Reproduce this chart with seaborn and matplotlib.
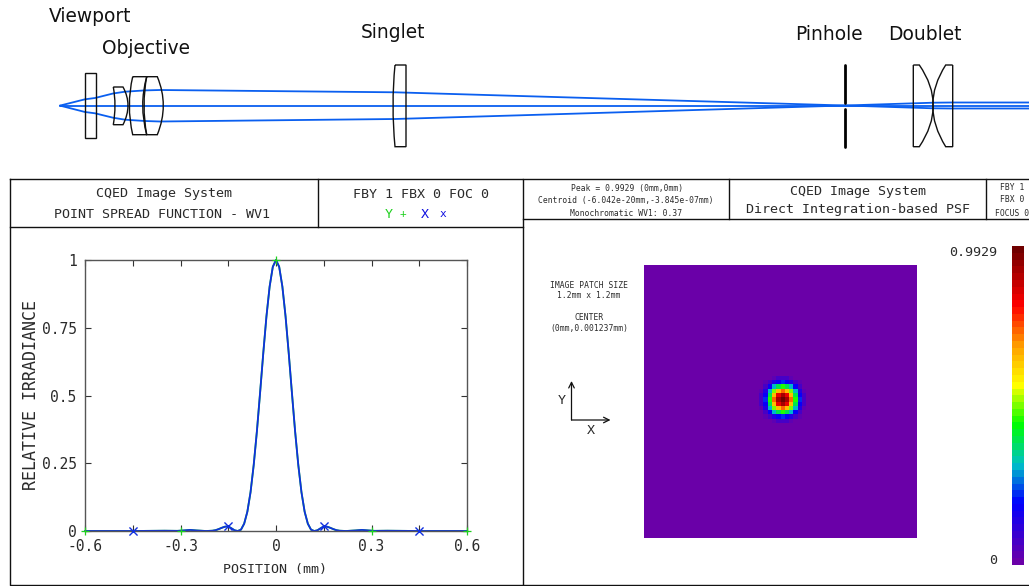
"""
Optical layout with PSF cross section and PSF map
"""

import matplotlib
matplotlib.use("Agg")
import matplotlib.pyplot as plt
from matplotlib.colors import LinearSegmentedColormap
from matplotlib.path import Path
from matplotlib.patches import PathPatch
import numpy as np
import pandas as pd
import seaborn as sns

sns.set_style("white")
plt.rcParams['font.family'] = ['DejaVu Sans Mono']

W, H = 1029, 586
BLUE_RAY = '#0a5ff0'
INK = '#2a2a2a'
SANS = ['DejaVu Sans']

# PSF cross section (one side, mirrored below)
POS = [0, .01, .02, .03, .04, .05, .06, .07, .08, .09, .10, .11, .12, .13, .14, .15,
       .16, .17, .18, .19, .20, .22, .25, .27, .29, .31, .35, .40, .45, .60]
IRR = [1, .975, .902, .792, .656, .510, .368, .244, .143, .071, .027, .005, 0, .0025,
       .010, .017, .016, .012, .007, .003, .001, 0, .002, .004, .002, .0005, .001,
       .0005, 0, 0]
Y_MARKS = [-.6, -.3, 0, .3, .6]
X_MARKS = [-.45, -.15, .15, .45]

X_TICKS = [-.6, -.45, -.3, -.15, 0, .15, .3, .45, .6]
X_LABELS = ['-0.6', '', '-0.3', '', '0', '', '0.3', '', '0.6']
Y_TICKS = [0, .25, .5, .75, 1]
Y_LABELS = ['0', '0.25', '0.5', '0.75', '1']

# PSF map: centre quadrant of the spot, the rest of the patch is 0
SPOT = [[.99, .91, .72, .45, .22, .08, .01],
        [.91, .84, .65, .40, .19, .07, .008],
        [.72, .65, .50, .30, .14, .04, .004],
        [.45, .40, .30, .18, .07, .015, 0],
        [.22, .19, .14, .07, .025, .004, 0],
        [.08, .07, .04, .015, .004, 0, 0],
        [.01, .008, .004, 0, 0, 0, 0]]
PEAK = 0.9929
N_CELLS = 64
N_LEVELS = 47
CMAP_STOPS = [(0, '#6a00a8'), (.19, '#0000ff'), (.31, '#00c0c8'), (.44, '#00ff00'),
              (.565, '#ffff00'), (.69, '#ffa000'), (.82, '#ff0000'), (1, '#700000')]

# ray paths in picture pixels
RAY_X = [60, 85, 95, 113, 125, 145, 160, 395, 520, 845, 933, 952, 1029]
RAY_UP = [105.6, 99.3, 98, 93.5, 91.7, 90.4, 90, 92.3, 96, 105.5, 108.3, 108.5, 108.5]
RAY_DOWN = [105.6, 112, 113.3, 117.7, 119.7, 121, 121.5, 119, 115.3, 105.5, 102.7, 102.5, 102.5]

LABELS = [('Viewport', 90.5, 16), ('Objective', 146, 49), ('Singlet', 393, 33),
          ('Pinhole', 829, 35), ('Doublet', 925, 35)]

# lens outlines: (x, y) start, then straight or curved segments; middle point is on the curve
LENSES = [
    [(113.3, 87), ('L', 123, 87), ('C', 128, 105.5, 123, 124.7), ('L', 113.3, 124.7), ('C', 115, 105.5, 113.3, 87)],
    [(132.7, 76.7), ('L', 146.7, 76.7), ('C', 142.7, 105.5, 146.7, 134.7), ('L', 132.7, 134.7), ('C', 129.3, 105.5, 132.7, 76.7)],
    [(146.7, 76.7), ('L', 157.3, 76.7), ('C', 163.3, 105.5, 157.3, 134.7), ('L', 146.7, 134.7), ('C', 144, 105.5, 146.7, 76.7)],
    [(395, 65), ('L', 406, 65), ('L', 406, 146.7), ('L', 395, 146.7), ('C', 393, 105.5, 395, 65)],
    [(913.3, 65), ('L', 919.3, 65), ('C', 933.3, 105.5, 919.3, 146.7), ('L', 913.3, 146.7), ('L', 913.3, 65)],
    [(952.7, 65), ('L', 945.7, 65), ('C', 932.7, 105.5, 945.7, 146.7), ('L', 952.7, 146.7), ('L', 952.7, 65)],
]


def px_axes(fig, x0, y0, x1, y1):
    """Axes placed by picture pixels"""
    return fig.add_axes([x0 / W, 1 - y1 / H, (x1 - x0) / W, (y1 - y0) / H])


def lens_path(outline):
    verts, codes = [outline[0]], [Path.MOVETO]
    for seg in outline[1:]:
        if seg[0] == 'L':
            verts.append(seg[1:])
            codes.append(Path.LINETO)
        else:
            a = np.array(verts[-1])
            mid = np.array(seg[1:3])
            b = np.array(seg[3:5])
            verts += [tuple(2 * mid - (a + b) / 2), tuple(b)]
            codes += [Path.CURVE3, Path.CURVE3]
    return Path(verts, codes)


def draw_layout(ax):
    for xs, ys in [(RAY_X, RAY_UP), (RAY_X, RAY_DOWN), ([60, 1029], [105.6, 105.6])]:
        ax.plot(xs, ys, color=BLUE_RAY, lw=1.3, zorder=2)
    ax.add_patch(plt.Rectangle((84.7, 73.3), 11, 64.4, fill=False, ec='#111111', lw=1.0, zorder=3))
    for outline in LENSES:
        ax.add_patch(PathPatch(lens_path(outline), fill=False, ec='#111111', lw=1.0, zorder=3))
    ax.plot([845, 845], [65, 102.5], color='black', lw=2, zorder=3)
    ax.plot([845, 845], [108.5, 147], color='black', lw=2, zorder=3)
    for text, x, y in LABELS:
        ax.text(x, y, text, family=SANS, fontsize=13.4, color='#111111', ha='center', va='center')


def draw_frames(ax):
    rules = [([10, 523, 523, 10, 10], [179, 179, 585, 585, 179]),
             ([10, 523], [227, 227]), ([318, 318], [179, 227]),
             ([523, 1029], [179, 179]), ([523, 1029], [219, 219]),
             ([729, 729], [179, 219]), ([986, 986], [179, 219]),
             ([523, 1029], [585, 585])]
    for xs, ys in rules:
        ax.plot(xs, ys, color='#111111', lw=1.0, solid_capstyle='projecting')


def draw_header_text(ax):
    main = dict(fontsize=9.6, color=INK, ha='center', va='center')
    small = dict(fontsize=5.8, color=INK, ha='center', va='center')
    ax.text(164, 194, 'CQED Image System', **main)
    ax.text(162, 214, 'POINT SPREAD FUNCTION - WV1', **main)
    ax.text(421, 194, 'FBY 1 FBX 0 FOC 0', **main)
    ax.text(389, 214, 'Y', **{**main, 'color': '#1fd01f'})
    ax.text(403, 214, '+', **{**small, 'color': '#1fd01f', 'fontsize': 8})
    ax.text(425, 214, 'X', **{**main, 'color': '#1010e0'})
    ax.text(443, 214, 'x', **{**small, 'color': '#1010e0', 'fontsize': 8})
    ax.text(627, 188, 'Peak = 0.9929 (0mm,0mm)', **small)
    ax.text(626, 200, 'Centroid (-6.042e-20mm,-3.845e-07mm)', **small)
    ax.text(626, 213, 'Monochromatic WV1: 0.37', **small)
    ax.text(858, 191, 'CQED Image System', **main)
    ax.text(858, 209, 'Direct Integration-based PSF', **main)
    ax.text(1012, 188, 'FBY 1', **small)
    ax.text(1012, 200, 'FBX 0', **small)
    ax.text(1012, 213, 'FOCUS 0', clip_on=True, **small)
    ax.text(589, 286, 'IMAGE PATCH SIZE', **small)
    ax.text(589, 296, '1.2mm x 1.2mm', **small)
    ax.text(589, 318, 'CENTER', **small)
    ax.text(589, 328, '(0mm,0.001237mm)', **small)
    ax.text(31, 395, 'RELATIVE IRRADIANCE', rotation=90, **{**main, 'fontsize': 12})
    ax.text(275, 569, 'POSITION (mm)', **main)
    ax.text(561.5, 400, 'Y', **main)
    ax.text(590.5, 431, 'X', **main)
    ax.text(973, 252, '0.9929', **main)
    ax.text(993, 560, '0', **main)
    for end in [(571.5, 381), (610.5, 420)]:
        ax.annotate('', xy=end, xytext=(571.5, 420),
                    arrowprops=dict(arrowstyle='->', color='#111111', lw=0.9, shrinkA=0, shrinkB=0))


def draw_profile(ax):
    x = np.array(POS)
    y = np.array(IRR)
    curve = pd.DataFrame({'position': np.r_[-x[:0:-1], x], 'irradiance': np.r_[y[:0:-1], y]})
    sns.lineplot(data=curve, x='position', y='irradiance', color='#1fd01f', lw=1.3, ax=ax, clip_on=False)
    sns.lineplot(data=curve, x='position', y='irradiance', color='#1030e0', lw=1.3, ax=ax, clip_on=False)
    sns.scatterplot(x=Y_MARKS, y=np.interp(np.abs(Y_MARKS), x, y), marker='+', s=28, color='#1fd01f',
                    linewidth=0.9, ax=ax, clip_on=False, zorder=5)
    sns.scatterplot(x=X_MARKS, y=np.interp(np.abs(X_MARKS), x, y), marker='x', s=34, color='#1030e0',
                    linewidth=1.0, ax=ax, clip_on=False, zorder=5)
    ax.set_xlim(-.6, .6)
    ax.set_ylim(0, 1)
    ax.set_xticks(X_TICKS)
    ax.set_xticklabels(X_LABELS)
    ax.set_yticks(Y_TICKS)
    ax.set_yticklabels(Y_LABELS)
    ax.set_xlabel('')
    ax.set_ylabel('')
    ax.tick_params(direction='in', bottom=True, left=True, top=True, right=True, length=4, width=0.8,
                   color='#333333', labelsize=10.5, labelcolor=INK, pad=6)
    for spine in ax.spines.values():
        spine.set_color('#555555')
        spine.set_linewidth(1.0)
    ax.patch.set_alpha(0)


def draw_maps(ax_map, ax_bar):
    colors = LinearSegmentedColormap.from_list('psf', CMAP_STOPS, N=N_LEVELS)
    quad = np.array(SPOT)
    spot = np.block([[quad[:0:-1, :0:-1], quad[:0:-1, :]], [quad[:, :0:-1], quad]])
    psf = np.zeros((N_CELLS, N_CELLS))
    psf[25:38, 26:39] = spot
    sns.heatmap(psf, vmin=0, vmax=PEAK, cmap=colors, cbar=False, square=False,
                xticklabels=False, yticklabels=False, ax=ax_map)
    levels = (np.arange(N_LEVELS)[::-1] + .5)[:, None] / N_LEVELS
    sns.heatmap(levels, vmin=0, vmax=1, cmap=colors, cbar=False,
                xticklabels=False, yticklabels=False, ax=ax_bar)


fig = plt.figure(figsize=(W / 100, H / 100), dpi=100)

ax_page = fig.add_axes([0, 0, 1, 1])
ax_page.set_xlim(0, W)
ax_page.set_ylim(H, 0)
ax_page.axis('off')
draw_layout(ax_page)
draw_frames(ax_page)
draw_header_text(ax_page)

draw_profile(px_axes(fig, 85, 260, 467, 531))
draw_maps(px_axes(fig, 644, 265, 917, 538), px_axes(fig, 1012, 246, 1024, 565))

fig.savefig('out.png', dpi=100)
plt.close(fig)
